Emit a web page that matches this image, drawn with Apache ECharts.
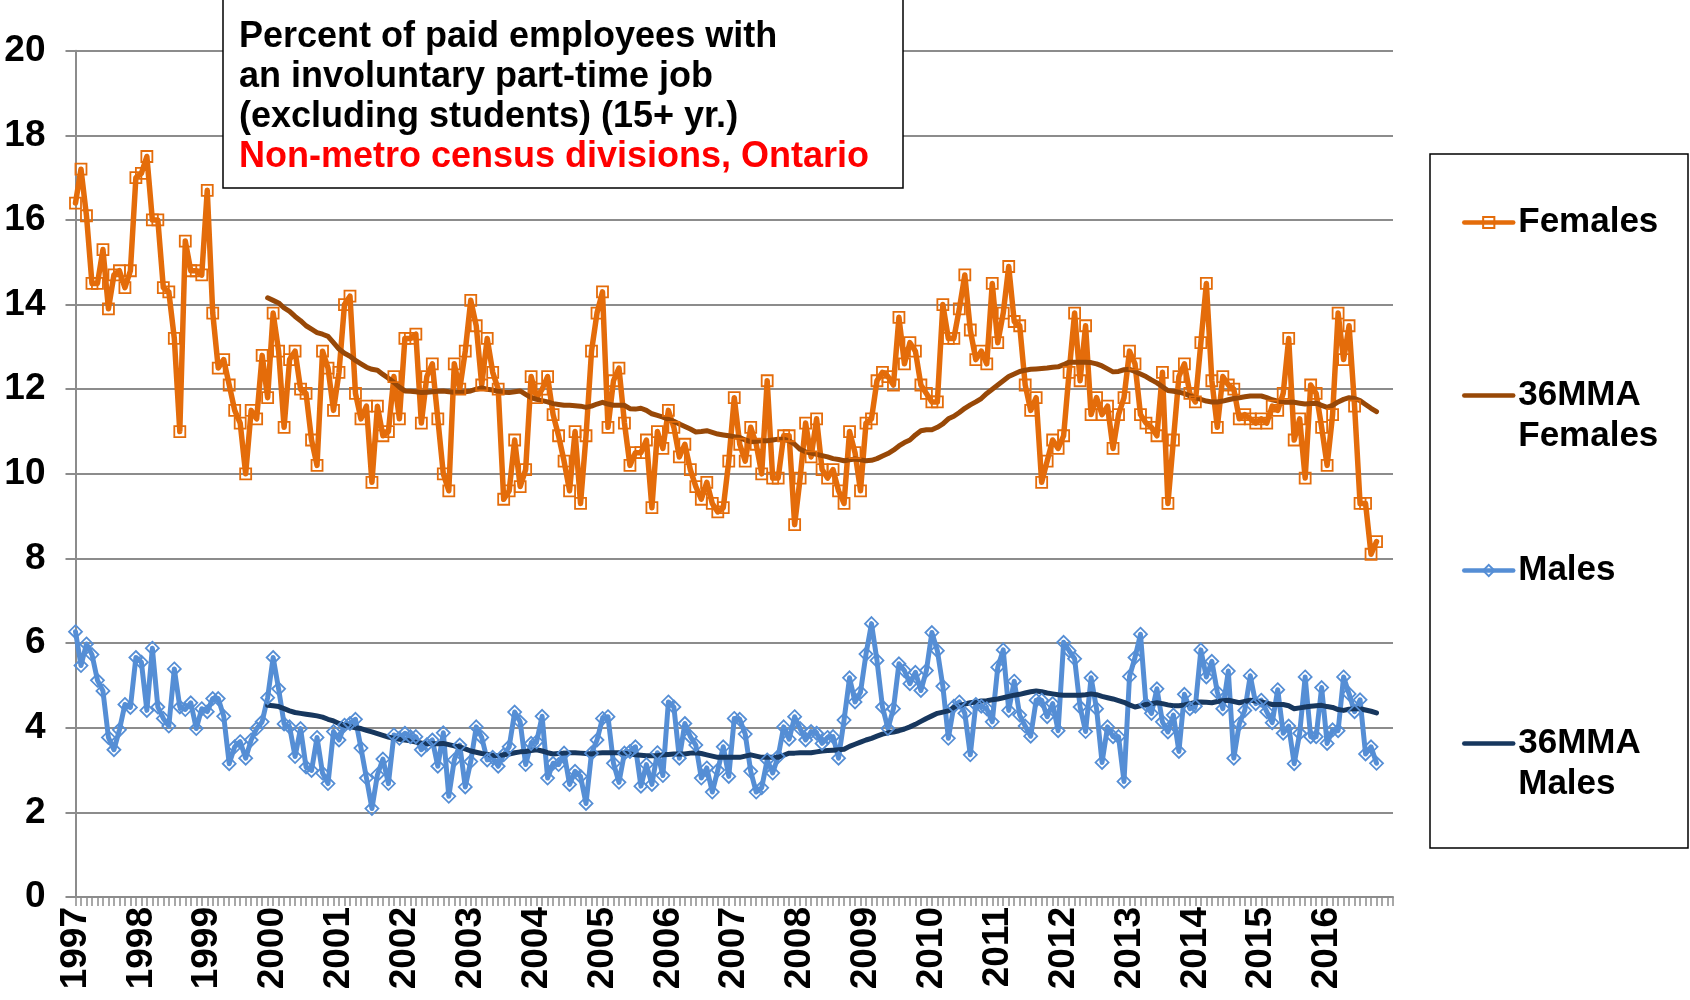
<!DOCTYPE html>
<html>
<head>
<meta charset="utf-8">
<script src="https://cdn.jsdelivr.net/npm/echarts@6/dist/echarts.min.js"></script>
<style>
  html, body { margin: 0; padding: 0; background: #fff; }
  #myChart { width: 1690px; height: 1000px; }
</style>
</head>
<body>
<div id="myChart"></div>
<script>
// year tick labels, one per January
var yearLabels = ['1997', '1998', '1999', '2000', '2001', '2002', '2003', '2004', '2005', '2006',
  '2007', '2008', '2009', '2010', '2011', '2012', '2013', '2014', '2015', '2016']
var monthNames = ['Jan', 'Feb', 'Mar', 'Apr', 'May', 'Jun', 'Jul', 'Aug', 'Sep', 'Oct', 'Nov', 'Dec']

// monthly values, Jan 1997 onward
var females = [
  16.4, 17.2, 16.1, 14.5, 14.5, 15.3, 13.9, 14.7, 14.8, 14.4,
  14.8, 17.0, 17.1, 17.5, 16.0, 16.0, 14.4, 14.3, 13.2, 11.0,
  15.5, 14.8, 14.8, 14.7, 16.7, 13.8, 12.5, 12.7, 12.1, 11.5,
  11.2, 10.0, 11.5, 11.3, 12.8, 11.8, 13.8, 12.9, 11.1, 12.7,
  12.9, 12.0, 11.9, 10.8, 10.2, 12.9, 12.5, 11.5, 12.4, 14.0,
  14.2, 11.9, 11.3, 11.6, 9.8, 11.6, 10.9, 11.0, 12.3, 11.3,
  13.2, 13.2, 13.3, 11.2, 12.3, 12.6, 11.3, 10.0, 9.6, 12.6,
  12.0, 12.9, 14.1, 13.5, 12.1, 13.2, 12.4, 12.0, 9.4, 9.6,
  10.8, 9.7, 10.1, 12.3, 11.8, 12.0, 12.3, 11.4, 10.9, 10.3,
  9.6, 11.0, 9.3, 10.9, 12.9, 13.8, 14.3, 11.1, 12.2, 12.5,
  11.2, 10.2, 10.5, 10.5, 10.8, 9.2, 11.0, 10.6, 11.5, 11.1,
  10.4, 10.7, 10.1, 9.7, 9.4, 9.8, 9.3, 9.1, 9.2, 10.3,
  11.8, 10.7, 10.3, 11.1, 10.7, 10.0, 12.2, 9.9, 9.9, 10.9,
  10.9, 8.8, 9.9, 11.2, 10.4, 11.3, 10.1, 9.9, 10.1, 9.6,
  9.3, 11.0, 10.5, 9.6, 11.2, 11.3, 12.2, 12.4, 12.3, 12.1,
  13.7, 12.6, 13.1, 12.9, 12.1, 11.9, 11.7, 11.7, 14.0, 13.2,
  13.2, 13.9, 14.7, 13.4, 12.7, 12.9, 12.6, 14.5, 13.1, 13.8,
  14.9, 13.6, 13.5, 12.1, 11.5, 11.8, 9.8, 10.3, 10.8, 10.6,
  10.9, 12.4, 13.8, 12.2, 13.5, 11.4, 11.8, 11.4, 11.6, 10.6,
  11.4, 11.8, 12.9, 12.6, 11.4, 11.2, 11.1, 10.9, 12.4, 9.3,
  10.8, 12.3, 12.6, 11.9, 11.7, 13.1, 14.5, 12.2, 11.1, 12.3,
  12.1, 12.0, 11.3, 11.4, 11.3, 11.2, 11.3, 11.2, 11.6, 11.5,
  11.9, 13.2, 10.8, 11.3, 9.9, 12.1, 11.9, 11.1, 10.2, 11.4,
  13.8, 12.7, 13.5, 11.6, 9.3, 9.3, 8.1, 8.4
]
var males = [
  6.27, 5.47, 5.98, 5.73, 5.12, 4.87, 3.77, 3.48, 3.95, 4.55,
  4.48, 5.66, 5.55, 4.41, 5.88, 4.49, 4.22, 4.04, 5.39, 4.49,
  4.43, 4.59, 3.98, 4.45, 4.38, 4.69, 4.69, 4.27, 3.15, 3.55,
  3.67, 3.28, 3.71, 3.98, 4.14, 4.71, 5.66, 4.92, 4.09, 4.02,
  3.32, 3.98, 3.07, 2.99, 3.77, 2.93, 2.68, 3.91, 3.71, 4.06,
  4.10, 4.20, 3.52, 2.81, 2.09, 2.89, 3.26, 2.68, 3.83, 3.75,
  3.87, 3.79, 3.79, 3.48, 3.60, 3.71, 3.09, 3.88, 2.38, 3.24,
  3.59, 2.60, 3.20, 4.02, 3.77, 3.24, 3.30, 3.09, 3.36, 3.55,
  4.37, 4.14, 3.13, 3.63, 3.67, 4.27, 2.81, 3.16, 3.13, 3.40,
  2.66, 2.97, 2.85, 2.21, 3.40, 3.71, 4.22, 4.26, 3.16, 2.71,
  3.40, 3.44, 3.55, 2.62, 3.13, 2.66, 3.41, 2.87, 4.61, 4.49,
  3.28, 4.10, 3.79, 3.59, 2.81, 3.05, 2.48, 3.00, 3.55, 2.85,
  4.22, 4.20, 3.85, 2.97, 2.48, 2.58, 3.24, 2.93, 3.32, 4.02,
  3.73, 4.26, 3.98, 3.71, 3.91, 3.87, 3.63, 3.77, 3.79, 3.28,
  4.18, 5.18, 4.61, 4.84, 5.74, 6.46, 5.59, 4.49, 3.98, 4.45,
  5.51, 5.35, 5.04, 5.31, 4.88, 5.35, 6.25, 5.82, 4.98, 3.75,
  4.51, 4.61, 4.34, 3.36, 4.55, 4.51, 4.45, 4.14, 5.43, 5.84,
  4.41, 5.10, 4.30, 4.04, 3.80, 4.65, 4.65, 4.26, 4.57, 3.93,
  6.02, 5.82, 5.63, 4.49, 3.91, 5.18, 4.45, 3.18, 4.02, 3.79,
  3.79, 2.73, 5.21, 5.66, 6.21, 4.55, 4.34, 4.92, 4.14, 3.90,
  4.30, 3.44, 4.79, 4.45, 4.51, 5.84, 5.20, 5.57, 4.84, 4.45,
  5.34, 3.28, 4.09, 4.41, 5.23, 4.57, 4.65, 4.38, 4.12, 4.90,
  3.87, 4.04, 3.15, 3.87, 5.20, 3.79, 3.79, 4.95, 3.63, 3.95,
  3.93, 5.20, 4.80, 4.38, 4.66, 3.38, 3.55, 3.16
]

// 36-month moving averages, starting Dec 1999 (month index 35)
var mmaStart = 35
var femalesMMA = [
  14.16, 14.1, 14.04, 13.92, 13.84, 13.72, 13.62, 13.5, 13.42, 13.34,
  13.3, 13.25, 13.1, 12.95, 12.85, 12.78, 12.68, 12.6, 12.52, 12.47,
  12.45, 12.35, 12.26, 12.16, 12.05, 11.96, 11.95, 11.94, 11.92, 11.93,
  11.94, 11.95, 11.96, 11.94, 11.93, 11.92, 11.94, 11.96, 12.0, 12.03,
  12.0, 11.98, 11.95, 11.93, 11.92, 11.94, 11.96, 11.88, 11.8, 11.76,
  11.73, 11.7, 11.66, 11.64, 11.62, 11.62, 11.61, 11.6, 11.57, 11.6,
  11.65, 11.69, 11.65, 11.62, 11.62, 11.62, 11.54, 11.53, 11.55, 11.5,
  11.42, 11.38, 11.34, 11.29, 11.24, 11.18, 11.12, 11.06, 10.99, 11.0,
  11.02, 10.98, 10.94, 10.92, 10.9, 10.88, 10.86, 10.8, 10.76, 10.77,
  10.78, 10.78, 10.8, 10.82, 10.82, 10.78, 10.7, 10.58, 10.52, 10.49,
  10.46, 10.43, 10.4, 10.36, 10.34, 10.31, 10.33, 10.35, 10.33, 10.31,
  10.32, 10.36, 10.42, 10.48, 10.56, 10.66, 10.74, 10.8, 10.92, 11.02,
  11.04, 11.04, 11.1, 11.18, 11.3, 11.36, 11.45, 11.55, 11.63, 11.7,
  11.78, 11.9, 12.0, 12.1, 12.2, 12.3, 12.36, 12.42, 12.45, 12.47,
  12.48, 12.49, 12.5, 12.52, 12.53, 12.58, 12.64, 12.64, 12.64, 12.64,
  12.63, 12.6, 12.55, 12.48, 12.41, 12.42, 12.46, 12.47, 12.42, 12.36,
  12.3, 12.22, 12.15, 12.06, 11.97, 11.95, 11.93, 11.9, 11.84, 11.8,
  11.76, 11.72, 11.7, 11.7, 11.72, 11.75, 11.78, 11.8, 11.82, 11.84,
  11.84, 11.84, 11.8, 11.75, 11.72, 11.69, 11.69, 11.69, 11.67, 11.65,
  11.66, 11.67, 11.62, 11.57, 11.62, 11.7, 11.76, 11.8, 11.78, 11.73,
  11.64, 11.55, 11.47
]
var malesMMA = [
  4.53, 4.52, 4.5, 4.45, 4.4, 4.36, 4.34, 4.32, 4.3, 4.28,
  4.25, 4.2, 4.16, 4.1, 4.06, 4.03, 4.0, 3.98, 3.94, 3.9,
  3.86, 3.82, 3.78, 3.75, 3.73, 3.71, 3.69, 3.66, 3.64, 3.63,
  3.62, 3.62, 3.63, 3.6, 3.57, 3.55, 3.5, 3.45, 3.42, 3.39,
  3.37, 3.35, 3.34, 3.36, 3.38, 3.41, 3.43, 3.44, 3.46, 3.48,
  3.45, 3.41, 3.38, 3.39, 3.4, 3.41, 3.41, 3.4, 3.39, 3.38,
  3.4, 3.41, 3.41, 3.41, 3.41, 3.4, 3.38, 3.36, 3.35, 3.34,
  3.34, 3.34, 3.36, 3.37, 3.38, 3.38, 3.38, 3.4, 3.41, 3.39,
  3.36, 3.33, 3.3, 3.3, 3.3, 3.3, 3.3, 3.33, 3.36, 3.33,
  3.3, 3.3, 3.3, 3.3, 3.35, 3.4, 3.4, 3.41, 3.41, 3.41,
  3.43, 3.45, 3.46, 3.47, 3.48, 3.49, 3.56, 3.61, 3.66, 3.71,
  3.75, 3.8, 3.85, 3.88, 3.9, 3.93, 3.97, 4.02, 4.08, 4.15,
  4.22, 4.28, 4.34, 4.37, 4.4, 4.48, 4.52, 4.56, 4.59, 4.61,
  4.63, 4.64, 4.66, 4.68, 4.71, 4.74, 4.77, 4.79, 4.82, 4.85,
  4.87, 4.85, 4.82, 4.8, 4.78, 4.77, 4.77, 4.77, 4.77, 4.78,
  4.8, 4.78, 4.74, 4.71, 4.68, 4.64, 4.6, 4.54, 4.49, 4.52,
  4.55, 4.57, 4.59, 4.57, 4.54, 4.52, 4.52, 4.54, 4.57, 4.6,
  4.61, 4.6, 4.59, 4.62, 4.64, 4.65, 4.62, 4.59, 4.62, 4.65,
  4.63, 4.61, 4.58, 4.55, 4.55, 4.55, 4.52, 4.45, 4.47, 4.49,
  4.51, 4.52, 4.53, 4.5, 4.48, 4.43, 4.41, 4.44, 4.45, 4.45,
  4.42, 4.39, 4.35
]

// month categories Jan 1997 .. Jan 2017 (axis runs a little past the data)
var categories = []
yearLabels.concat(['2017']).forEach(function (y) {
  monthNames.forEach(function (m) {
    if (y === '2017' && m !== 'Jan') return
    categories.push(m + ' ' + y)
  })
})

function padMMA (arr) {
  var out = []
  for (var i = 0; i < mmaStart; i++) out.push(null)
  return out.concat(arr)
}

var FONT = '"Liberation Sans", Arial, sans-serif'
var ORANGE = '#E46C0A'
var BROWN = '#984807'
var BLUE = '#558ED5'
var NAVY = '#17375E'
var GRID = '#8c8c8c'

var legendText = {
  color: '#000',
  fontFamily: FONT,
  fontWeight: 'bold',
  fontSize: 35,
  lineHeight: 41
}

// shared legend look; one legend per entry so each can sit where the original has it
function legendAt (name, top, label) {
  var item = { name: name }
  if (label) item.itemStyle = { opacity: 0 }
  return {
    data: [item],
    left: 1457,
    top: top,
    orient: 'vertical',
    itemWidth: 49,
    itemHeight: 14,
    lineStyle: { width: 4.5 },
    textStyle: legendText,
    // blank first line keeps the icon level with "36MMA"
    formatter: label ? function () { return ' \n' + label } : null
  }
}

var option = {
  animation: false,
  backgroundColor: '#fff',
  title: {
    left: 223,
    top: -3,
    padding: [20, 16, 13, 16],
    backgroundColor: '#fff',
    borderColor: '#000',
    borderWidth: 1.5,
    z: 10,
    text: '{a|Percent of paid employees with}\n{a|an involuntary part-time job}\n{a|(excluding students) (15+ yr.)}\n{b|Non-metro census divisions, Ontario}',
    textStyle: {
      rich: {
        a: { fontFamily: FONT, fontWeight: 'bold', fontSize: 36, lineHeight: 40, color: '#000', width: 648 },
        b: { fontFamily: FONT, fontWeight: 'bold', fontSize: 36, lineHeight: 40, color: '#FF0000', width: 648 }
      }
    }
  },
  legend: [
    legendAt('Females', 197),
    legendAt('36MMA Females', 329, '36MMA\nFemales'),
    legendAt('Males', 545),
    legendAt('36MMA Males', 677, '36MMA\nMales')
  ],
  graphic: [
    {
      type: 'rect',
      shape: { x: 1430, y: 154, width: 258, height: 694 },
      style: { fill: 'none', stroke: '#000', lineWidth: 1.5 },
      silent: true
    }
  ],
  grid: {
    left: 75.5,
    right: 297,
    top: 50.7,
    bottom: 103
  },
  xAxis: {
    type: 'category',
    data: categories,
    boundaryGap: false,
    axisLine: { lineStyle: { color: GRID, width: 2 } },
    axisTick: { show: true, interval: 0, length: 9, lineStyle: { color: GRID, width: 1.5 } },
    axisLabel: {
      rotate: 90,
      margin: 10,
      interval: 0,
      color: '#000',
      fontFamily: FONT,
      fontWeight: 'bold',
      fontSize: 37,
      formatter: function (val, idx) {
        if (idx % 12 === 0 && idx / 12 < yearLabels.length) return yearLabels[idx / 12]
        return ''
      }
    },
    splitLine: { show: false }
  },
  yAxis: {
    type: 'value',
    min: 0,
    max: 20,
    interval: 2,
    axisLine: { show: true, lineStyle: { color: GRID, width: 2 } },
    axisTick: { show: true, length: 10, lineStyle: { color: GRID, width: 2 } },
    axisLabel: {
      margin: 30,
      color: '#000',
      fontFamily: FONT,
      fontWeight: 'bold',
      fontSize: 37
    },
    splitLine: { lineStyle: { color: GRID, width: 2 } }
  },
  series: [
    {
      name: 'Females',
      type: 'line',
      data: females,
      symbol: 'rect',
      symbolSize: 11,
      itemStyle: { color: 'rgba(255,255,255,0)', borderColor: ORANGE, borderWidth: 1.8 },
      lineStyle: { color: ORANGE, width: 5.5, cap: 'round', join: 'round' }
    },
    {
      name: '36MMA Females',
      type: 'line',
      data: padMMA(femalesMMA),
      symbol: 'none',
      showSymbol: false,
      itemStyle: { color: BROWN },
      lineStyle: { color: BROWN, width: 5, cap: 'round', join: 'round' }
    },
    {
      name: 'Males',
      type: 'line',
      data: males,
      symbol: 'diamond',
      symbolSize: 13,
      itemStyle: { color: 'rgba(255,255,255,0)', borderColor: BLUE, borderWidth: 1.8 },
      lineStyle: { color: BLUE, width: 5, cap: 'round', join: 'round' }
    },
    {
      name: '36MMA Males',
      type: 'line',
      data: padMMA(malesMMA),
      symbol: 'none',
      showSymbol: false,
      itemStyle: { color: NAVY },
      lineStyle: { color: NAVY, width: 5, cap: 'round', join: 'round' }
    }
  ]
}

var myChart = echarts.init(document.getElementById('myChart'))
myChart.setOption(option)
window.onresize = myChart.resize
</script>
</body>
</html>
